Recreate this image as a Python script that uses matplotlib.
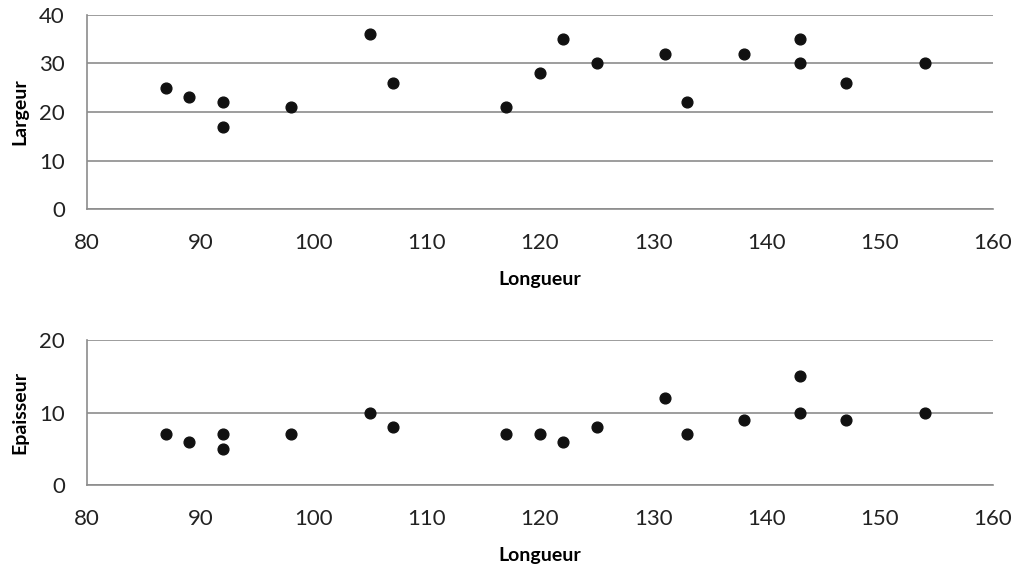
import matplotlib.pyplot as plt
from matplotlib.ticker import MultipleLocator

# Données
longueur = [87, 89, 92, 92, 98, 105, 107, 117, 120, 122, 125, 131, 133, 138, 143, 143, 147, 154]
largeur = [25, 23, 22, 17, 21, 36, 26, 21, 28, 35, 30, 32, 22, 32, 35, 30, 26, 30]
epaisseur = [7, 6, 7, 5, 7, 10, 8, 7, 7, 6, 8, 12, 7, 9, 15, 10, 9, 10]

plt.rcParams['font.family'] = ['Lato', 'DejaVu Sans']

fig = plt.figure(figsize=(10.14, 5.65), dpi=100)
ax1 = fig.add_axes([0.0858, 0.630, 0.8935, 0.3435])
ax2 = fig.add_axes([0.0858, 0.1416, 0.8935, 0.2564])

grid_col = '#8c8c8c'

def style(ax, ymax, ystep, ylabel):
    ax.set_xlim(80, 160)
    ax.set_ylim(0, ymax)
    ax.xaxis.set_major_locator(MultipleLocator(10))
    ax.yaxis.set_major_locator(MultipleLocator(ystep))
    ax.grid(axis='y', color=grid_col, lw=1.2)
    ax.set_axisbelow(True)
    for s in ['top', 'right']:
        ax.spines[s].set_visible(False)
    for s in ['left', 'bottom']:
        ax.spines[s].set_color(grid_col)
        ax.spines[s].set_linewidth(1.2)
    ax.tick_params(length=0, labelsize=16, colors='#222222')
    ax.tick_params(axis='x', pad=17)
    ax.tick_params(axis='y', pad=16)
    ax.set_xlabel('Longueur', fontsize=14, fontweight='bold', labelpad=13)
    ax.set_ylabel(ylabel, fontsize=14, fontweight='bold', labelpad=8)

ax1.scatter(longueur, largeur, s=60, color='#111111', zorder=3, clip_on=False)
style(ax1, 40, 10, 'Largeur')

ax2.scatter(longueur, epaisseur, s=60, color='#111111', zorder=3, clip_on=False)
style(ax2, 20, 10, 'Epaisseur')

fig.savefig('out.png', dpi=100)
